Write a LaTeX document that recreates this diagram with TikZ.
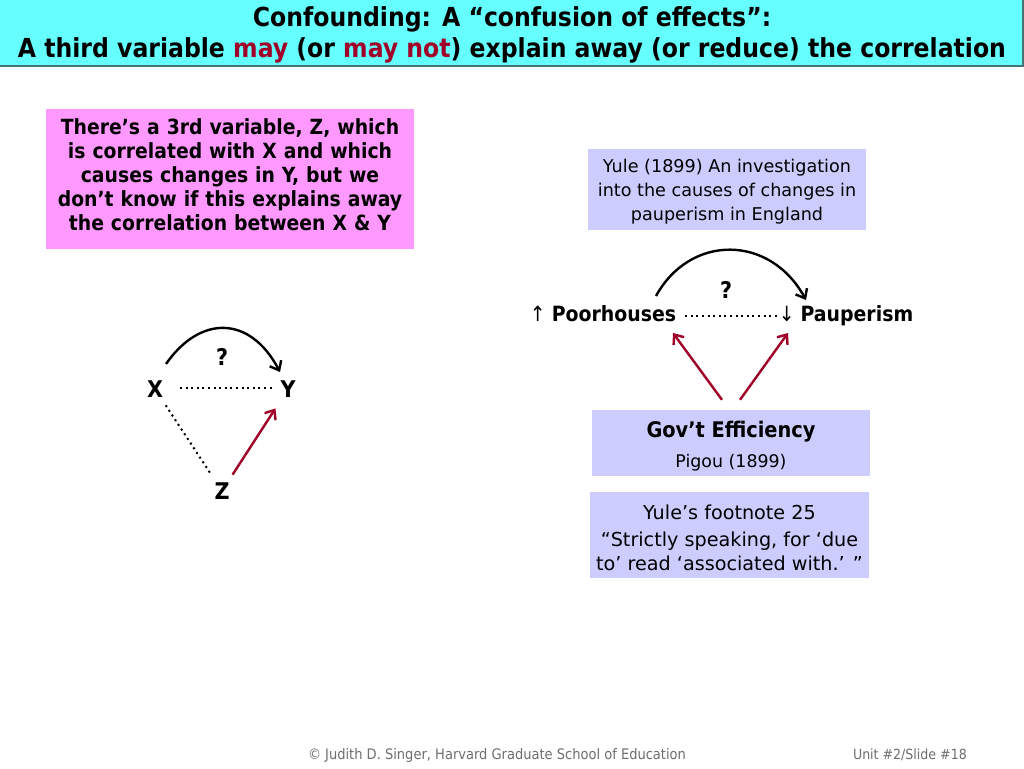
\documentclass[tikz,border=0pt]{standalone}
\usepackage{fontspec}
\setmainfont{DejaVu Sans Condensed}
\newfontfamily\widefont{DejaVu Sans}
\usetikzlibrary{arrows.meta,calc}
\definecolor{titlecyan}{RGB}{102,255,255}
\definecolor{titleedge}{RGB}{70,115,115}
\definecolor{pinkbox}{RGB}{255,153,255}
\definecolor{lavbox}{RGB}{204,204,255}
\definecolor{crim}{RGB}{160,0,40}
\definecolor{footgray}{RGB}{110,110,110}
\begin{document}
\begin{tikzpicture}[x=1pt,y=-1pt,
  titletext/.style={font=\fontsize{26.2}{30}\selectfont\bfseries, inner sep=0pt},
  varnode/.style={font=\fontsize{23}{27}\selectfont\bfseries, inner sep=3pt},
  qmark/.style={font=\fontsize{23}{27}\selectfont\bfseries, inner sep=0pt},
  lavnode/.style={fill=lavbox, align=center, inner sep=0pt},
  causal/.style={line width=2.4pt, -{Straight Barb[length=8pt,width=13pt]}},
  redcause/.style={causal, draw=crim},
  dotline/.style={line width=2pt, dash pattern=on 2pt off 3.6pt},
  foottext/.style={font=\fontsize{14}{16}\selectfont, text=footgray, inner sep=0pt}
]
\useasboundingbox (0,0) rectangle (1024,768);
\fill[white] (0,0) rectangle (1024,768);
% title band
\node[fill=titlecyan, draw=titleedge, line width=1.5pt, minimum width=1025pt, minimum height=67pt, anchor=north west, inner sep=0pt] (band) at (-3,-2) {};
\node[titletext] (t1) at (512,19) {Confounding: A “confusion of effects”:};
\node[titletext] (t2) at (512,50) {A third variable \textcolor{crim}{may} (or \textcolor{crim}{may not}) explain away (or reduce) the correlation};
% pink box
\fill[pinkbox] (46,109) rectangle (414,249);
\node[text width=366pt, align=center, inner sep=0pt,
      font=\fontsize{20.9}{24}\selectfont\bfseries] (pink) at (230,175)
  {There’s a 3rd variable, Z, which\\ is correlated with X and which\\ causes changes in Y, but we\\ don’t know if this explains away\\ the correlation between X \& Y};
% left diagram
\node[varnode] (X) at (155,389) {X};
\node[varnode] (Y) at (288,389) {Y};
\node[varnode] (Z) at (222,491) {Z};
\node[qmark] (q1) at (222,357) {?};
\draw[causal] ($(X)+(11,-25)$) .. controls ($(X)+(45,-74)$) and ($(Y)+(-38,-74)$) .. ($(Y)+(-8,-17)$);
\draw[dotline] ($(X)+(25,-1)$) -- ($(Y)+(-16,-1)$);
\draw[dotline] ($(X)!0.16!(Z)$) -- ($(X)!0.82!(Z)$);
\draw[redcause] ($(Z)!0.16!(Y)$) -- ($(Z)!0.81!(Y)$);
% right top box
\fill[lavbox] (588,149) rectangle (866,230);
\node[align=center, inner sep=0pt, font=\widefont\fontsize{17.6}{24}\selectfont] (yule) at (727,192)
  {Yule (1899) An investigation\\ into the causes of changes in\\ pauperism in England};
% right diagram
\node[inner sep=0pt, font=\fontsize{21}{25}\selectfont] (P) at (603,314) {↑ \textbf{Poorhouses}};
\node[inner sep=0pt, font=\fontsize{21}{25}\selectfont] (Q) at (846,316) {↓ \textbf{Pauperism}};
\node[qmark] (q2) at (726,290) {?};
\draw[causal] ($(P)+(53,-18)$) .. controls ($(P)+(87,-80)$) and ($(Q)+(-76,-82)$) .. ($(Q)+(-40,-16)$);
\draw[dotline] ($(P.east)+(9,2)$) -- ($(Q.west)+(-1,0)$);
% gov box
\node[fill=lavbox, inner sep=0pt, minimum width=278pt, minimum height=66pt] (G) at (731,443) {};
\node[align=center, inner sep=0pt] (govtext) at (731,446)
  {{\fontsize{21.5}{24}\selectfont\bfseries Gov’t Efficiency}\\[11pt]{\widefont\fontsize{17.4}{20}\selectfont Pigou (1899)}};
\draw[redcause] ([xshift=-9pt,yshift=10pt]G.north) -- ($(P)+(70,19)$);
\draw[redcause] ([xshift=9pt,yshift=10pt]G.north) -- ($(Q)+(-58,17)$);
% footnote box
\fill[lavbox] (590,492) rectangle (869,578);
\node[align=center, inner sep=0pt, font=\widefont\fontsize{19.2}{24}\selectfont] (foot) at (729.5,538)
  {Yule’s footnote 25\\[3pt] “Strictly speaking, for ‘due\\ to’ read ‘associated with.’ ”};
% footer
\node[foottext, font=\fontsize{14.5}{16}\selectfont] (copy) at (497,755) {© Judith D. Singer, Harvard Graduate School of Education};
\node[foottext, anchor=east] (slide) at (967,755) {Unit \#2/Slide \#18};
\end{tikzpicture}
\end{document}
